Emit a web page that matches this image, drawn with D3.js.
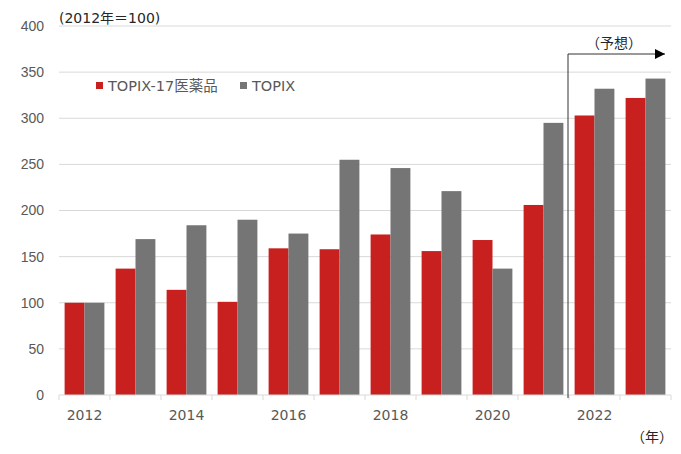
<!DOCTYPE html>
<html lang="ja">
<head>
<meta charset="UTF-8"/>
<title>TOPIX-17医薬品 vs TOPIX</title>
<script src="https://cdn.jsdelivr.net/npm/d3@7/dist/d3.min.js"></script>
<style>
  body { margin: 0; background: #fff; }
  svg { display: block; font-family: "DejaVu Sans", "Noto Sans CJK JP", sans-serif; }
  .tick text { fill: #595959; font-size: 14px; }
  .grid line { stroke: #d9d9d9; }
</style>
</head>
<body>
<svg width="681" height="454"></svg>
<script>
const years = ['2012','2013','2014','2015','2016','2017','2018','2019','2020','2021','2022','2023'];
const pharma = [100, 137, 114, 101, 159, 158, 174, 156, 168, 206, 303, 322];
const topix  = [100, 169, 184, 190, 175, 255, 246, 221, 137, 295, 332, 343];
const seriesNames = ['TOPIX-17医薬品', 'TOPIX'];
const colors = ['#c8201f', '#757575'];
const yTicks = [0, 50, 100, 150, 200, 250, 300, 350, 400];

const svg = d3.select('svg');
const plotL = 59, plotR = 671, plotT = 26, plotB = 395;

const x = d3.scaleBand().domain(years).range([plotL, plotR])
  .paddingInner(0.22).paddingOuter(0.11);
const xs = d3.scaleBand().domain([0, 1]).range([0, x.bandwidth()]);
const y = d3.scaleLinear().domain([0, 400]).range([plotB, plotT]);

// grid
svg.append('g').attr('class', 'grid')
  .selectAll('line').data(yTicks.filter(d => d > 0)).enter().append('line')
  .attr('x1', plotL).attr('x2', plotR)
  .attr('y1', d => y(d)).attr('y2', d => y(d));

// y axis labels
const yAxis = svg.append('g').attr('transform', `translate(${plotL},0)`)
  .call(d3.axisLeft(y).tickValues(yTicks).tickSize(0).tickPadding(15));
yAxis.select('.domain').remove();

// bars
const rows = years.map((yr, i) => ({ year: yr, vals: [pharma[i], topix[i]] }));
const groups = svg.append('g').selectAll('g').data(rows).enter().append('g')
  .attr('transform', d => `translate(${x(d.year)},0)`);
groups.selectAll('rect').data(d => d.vals.map((v, k) => ({ v, k }))).enter().append('rect')
  .attr('x', d => xs(d.k))
  .attr('width', xs.bandwidth())
  .attr('y', d => y(d.v))
  .attr('height', d => y(0) - y(d.v))
  .attr('fill', d => colors[d.k]);

// x axis: ticks at category boundaries, labels every other year
const xAxisG = svg.append('g').attr('transform', `translate(0,${plotB})`);
xAxisG.append('line').attr('x1', plotL).attr('x2', plotR)
  .attr('stroke', '#d9d9d9');
const step = x.step();
const bounds = d3.range(years.length + 1).map(i => plotL + i * step);
xAxisG.selectAll('.bt').data(bounds).enter().append('line')
  .attr('x1', d => d).attr('x2', d => d).attr('y1', 0).attr('y2', 5)
  .attr('stroke', '#d9d9d9');
xAxisG.selectAll('text').data(years.filter((d, i) => i % 2 === 0)).enter().append('text')
  .attr('x', d => x(d) + x.bandwidth() / 2)
  .attr('y', 25)
  .attr('text-anchor', 'middle')
  .attr('fill', '#595959')
  .attr('font-size', 14)
  .text(d => d);

// forecast marker
const fx = x('2022') - step * 0.11 - 1;
svg.append('defs').append('marker')
  .attr('id', 'arr').attr('viewBox', '0 0 10 10').attr('refX', 10).attr('refY', 5)
  .attr('markerWidth', 10).attr('markerHeight', 10).attr('markerUnits', 'userSpaceOnUse')
  .attr('orient', 'auto')
  .append('path').attr('d', 'M0,0 L10,5 L0,10 Z').attr('fill', '#000');
svg.append('path')
  .attr('d', `M${fx},${plotB + 3} L${fx},54 L${plotR - 6},54`)
  .attr('fill', 'none').attr('stroke', '#333').attr('stroke-width', 1)
  .attr('marker-end', 'url(#arr)');
svg.append('text').attr('x', fx + 46).attr('y', 48)
  .attr('text-anchor', 'middle').attr('font-size', 14).attr('fill', '#262626')
  .text('（予想）');

// legend
const legend = svg.append('g').attr('transform', 'translate(96,86)');
const lx = [0, 144];
seriesNames.forEach((n, k) => {
  legend.append('rect').attr('x', lx[k]).attr('y', -4).attr('width', 7).attr('height', 7)
    .attr('fill', colors[k]);
  legend.append('text').attr('x', lx[k] + 12).attr('y', 5)
    .attr('font-size', 14.5).attr('fill', '#595959').text(n);
});

// unit labels
svg.append('text').attr('x', 59).attr('y', 23).attr('font-size', 14)
  .attr('fill', '#262626').text('(2012年＝100)');
svg.append('text').attr('x', 631).attr('y', 442).attr('font-size', 14)
  .attr('fill', '#262626').text('（年）');
</script>
</body>
</html>
